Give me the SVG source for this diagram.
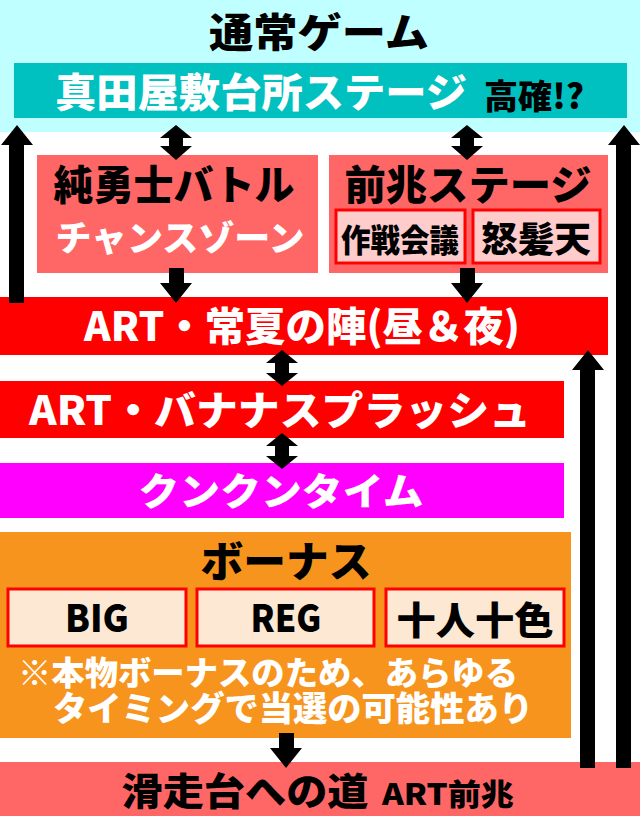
<svg xmlns="http://www.w3.org/2000/svg" width="640" height="816" viewBox="0 0 640 816">
<style>
text{font-family:"Noto Sans CJK JP","Noto Sans",sans-serif;font-weight:900;text-anchor:middle}
.w{fill:#ffffff}
.k{fill:#000000}
.sub{fill:#ffcccc;stroke:#ff0000;stroke-width:3}
.bsub{fill:#fde9d3;stroke:#ff0000;stroke-width:3}
.arr{fill:#000000}
</style>
<rect x="0" y="0" width="640" height="816" fill="#ffffff"/>
<g id="normal">
<rect x="0" y="0" width="640" height="132" fill="#c0ffff"/>
<text class="k" x="319" y="47" font-size="40" textLength="220" lengthAdjust="spacingAndGlyphs">通常ゲーム</text>
</g>
<g id="sanada">
<rect x="14" y="63" width="613" height="55" fill="#00c0c0"/>
<text class="w" x="261" y="107" font-size="40" textLength="412" lengthAdjust="spacingAndGlyphs">真田屋敷台所ステージ</text>
<text class="k" x="534" y="109" font-size="34" textLength="100" lengthAdjust="spacingAndGlyphs">高確!?</text>
</g>
<g id="battle">
<rect x="37" y="155" width="281" height="118" fill="#ff6666"/>
<text class="k" x="174" y="200" font-size="41" textLength="241" lengthAdjust="spacingAndGlyphs">純勇士バトル</text>
<text class="w" x="180" y="251" font-size="35" textLength="249" lengthAdjust="spacingAndGlyphs">チャンスゾーン</text>
</g>
<g id="zencho">
<rect x="329" y="155" width="279" height="118" fill="#ff6666"/>
<text class="k" x="468" y="200" font-size="41" textLength="247" lengthAdjust="spacingAndGlyphs">前兆ステージ</text>
<rect class="sub" x="336" y="210" width="129" height="53"/>
<text class="k" x="400" y="252" font-size="32" textLength="118" lengthAdjust="spacingAndGlyphs">作戦会議</text>
<rect class="sub" x="473" y="210" width="127" height="53"/>
<text class="k" x="536" y="252" font-size="35" textLength="110" lengthAdjust="spacingAndGlyphs">怒髪天</text>
</g>
<g id="art1">
<rect x="0" y="297" width="608" height="58" fill="#ff0000"/>
<text class="w" x="302" y="341" font-size="40" textLength="436" lengthAdjust="spacingAndGlyphs">ART・常夏の陣(昼＆夜)</text>
</g>
<g id="art2">
<rect x="0" y="381" width="564" height="57" fill="#ff0000"/>
<text class="w" x="280" y="425" font-size="40" textLength="502" lengthAdjust="spacingAndGlyphs">ART・バナナスプラッシュ</text>
</g>
<g id="kunkun">
<rect x="0" y="463" width="564" height="55" fill="#ff00ff"/>
<text class="w" x="281" y="505" font-size="38" textLength="285" lengthAdjust="spacingAndGlyphs">クンクンタイム</text>
</g>
<g id="bonus">
<rect x="0" y="532" width="571" height="206" fill="#f7941d"/>
<text class="k" x="286" y="577" font-size="42" textLength="171" lengthAdjust="spacingAndGlyphs">ボーナス</text>
<rect class="bsub" x="8" y="589" width="178" height="57"/>
<text class="k" x="97" y="632" font-size="38" textLength="64" lengthAdjust="spacingAndGlyphs">BIG</text>
<rect class="bsub" x="197" y="589" width="177" height="57"/>
<text class="k" x="286" y="632" font-size="38" textLength="71" lengthAdjust="spacingAndGlyphs">REG</text>
<rect class="bsub" x="386" y="589" width="178" height="57"/>
<text class="k" x="475" y="634" font-size="38" textLength="157" lengthAdjust="spacingAndGlyphs">十人十色</text>
<text class="w" x="268" y="685" font-size="33" textLength="500" lengthAdjust="spacingAndGlyphs">※本物ボーナスのため、あらゆる</text>
<text class="w" x="293" y="721" font-size="34" textLength="480" lengthAdjust="spacingAndGlyphs">タイミングで当選の可能性あり</text>
</g>
<g id="kassoudai">
<rect x="0" y="762" width="640" height="54" fill="#ff6666"/>
<text class="k" x="245" y="805" font-size="38" textLength="247" lengthAdjust="spacingAndGlyphs">滑走台への道</text>
<text class="k" x="448" y="805" font-size="30" textLength="132" lengthAdjust="spacingAndGlyphs">ART前兆</text>
</g>
<g id="connectors">
<polygon class="arr" points="176,125 192,138 183,138 183,146 192,146 176,160 160,146 169,146 169,138 160,138"/>
<polygon class="arr" points="467,125 483,138 474,138 474,146 483,146 467,160 451,146 460,146 460,138 451,138"/>
<polygon class="arr" points="169,268 184,268 184,283 192,283 176,303 160,283 169,283"/>
<polygon class="arr" points="460,268 475,268 475,283 483,283 467,303 451,283 460,283"/>
<polygon class="arr" points="282,350 298,363 289,363 289,373 298,373 282,386 266,373 275,373 275,363 266,363"/>
<polygon class="arr" points="282,433 298,446 289,446 289,456 298,456 282,469 266,456 275,456 275,446 266,446"/>
<polygon class="arr" points="279,733 294,733 294,748 302,748 286,768 270,748 279,748"/>
<polygon class="arr" points="9,303 9,145 1,145 17,125 33,145 24,145 24,303"/>
<polygon class="arr" points="616,768 616,145 608,145 624,125 640,145 631,145 631,768"/>
<polygon class="arr" points="580,768 580,370 572,370 588,350 604,370 595,370 595,768"/>
</g>
</svg>
